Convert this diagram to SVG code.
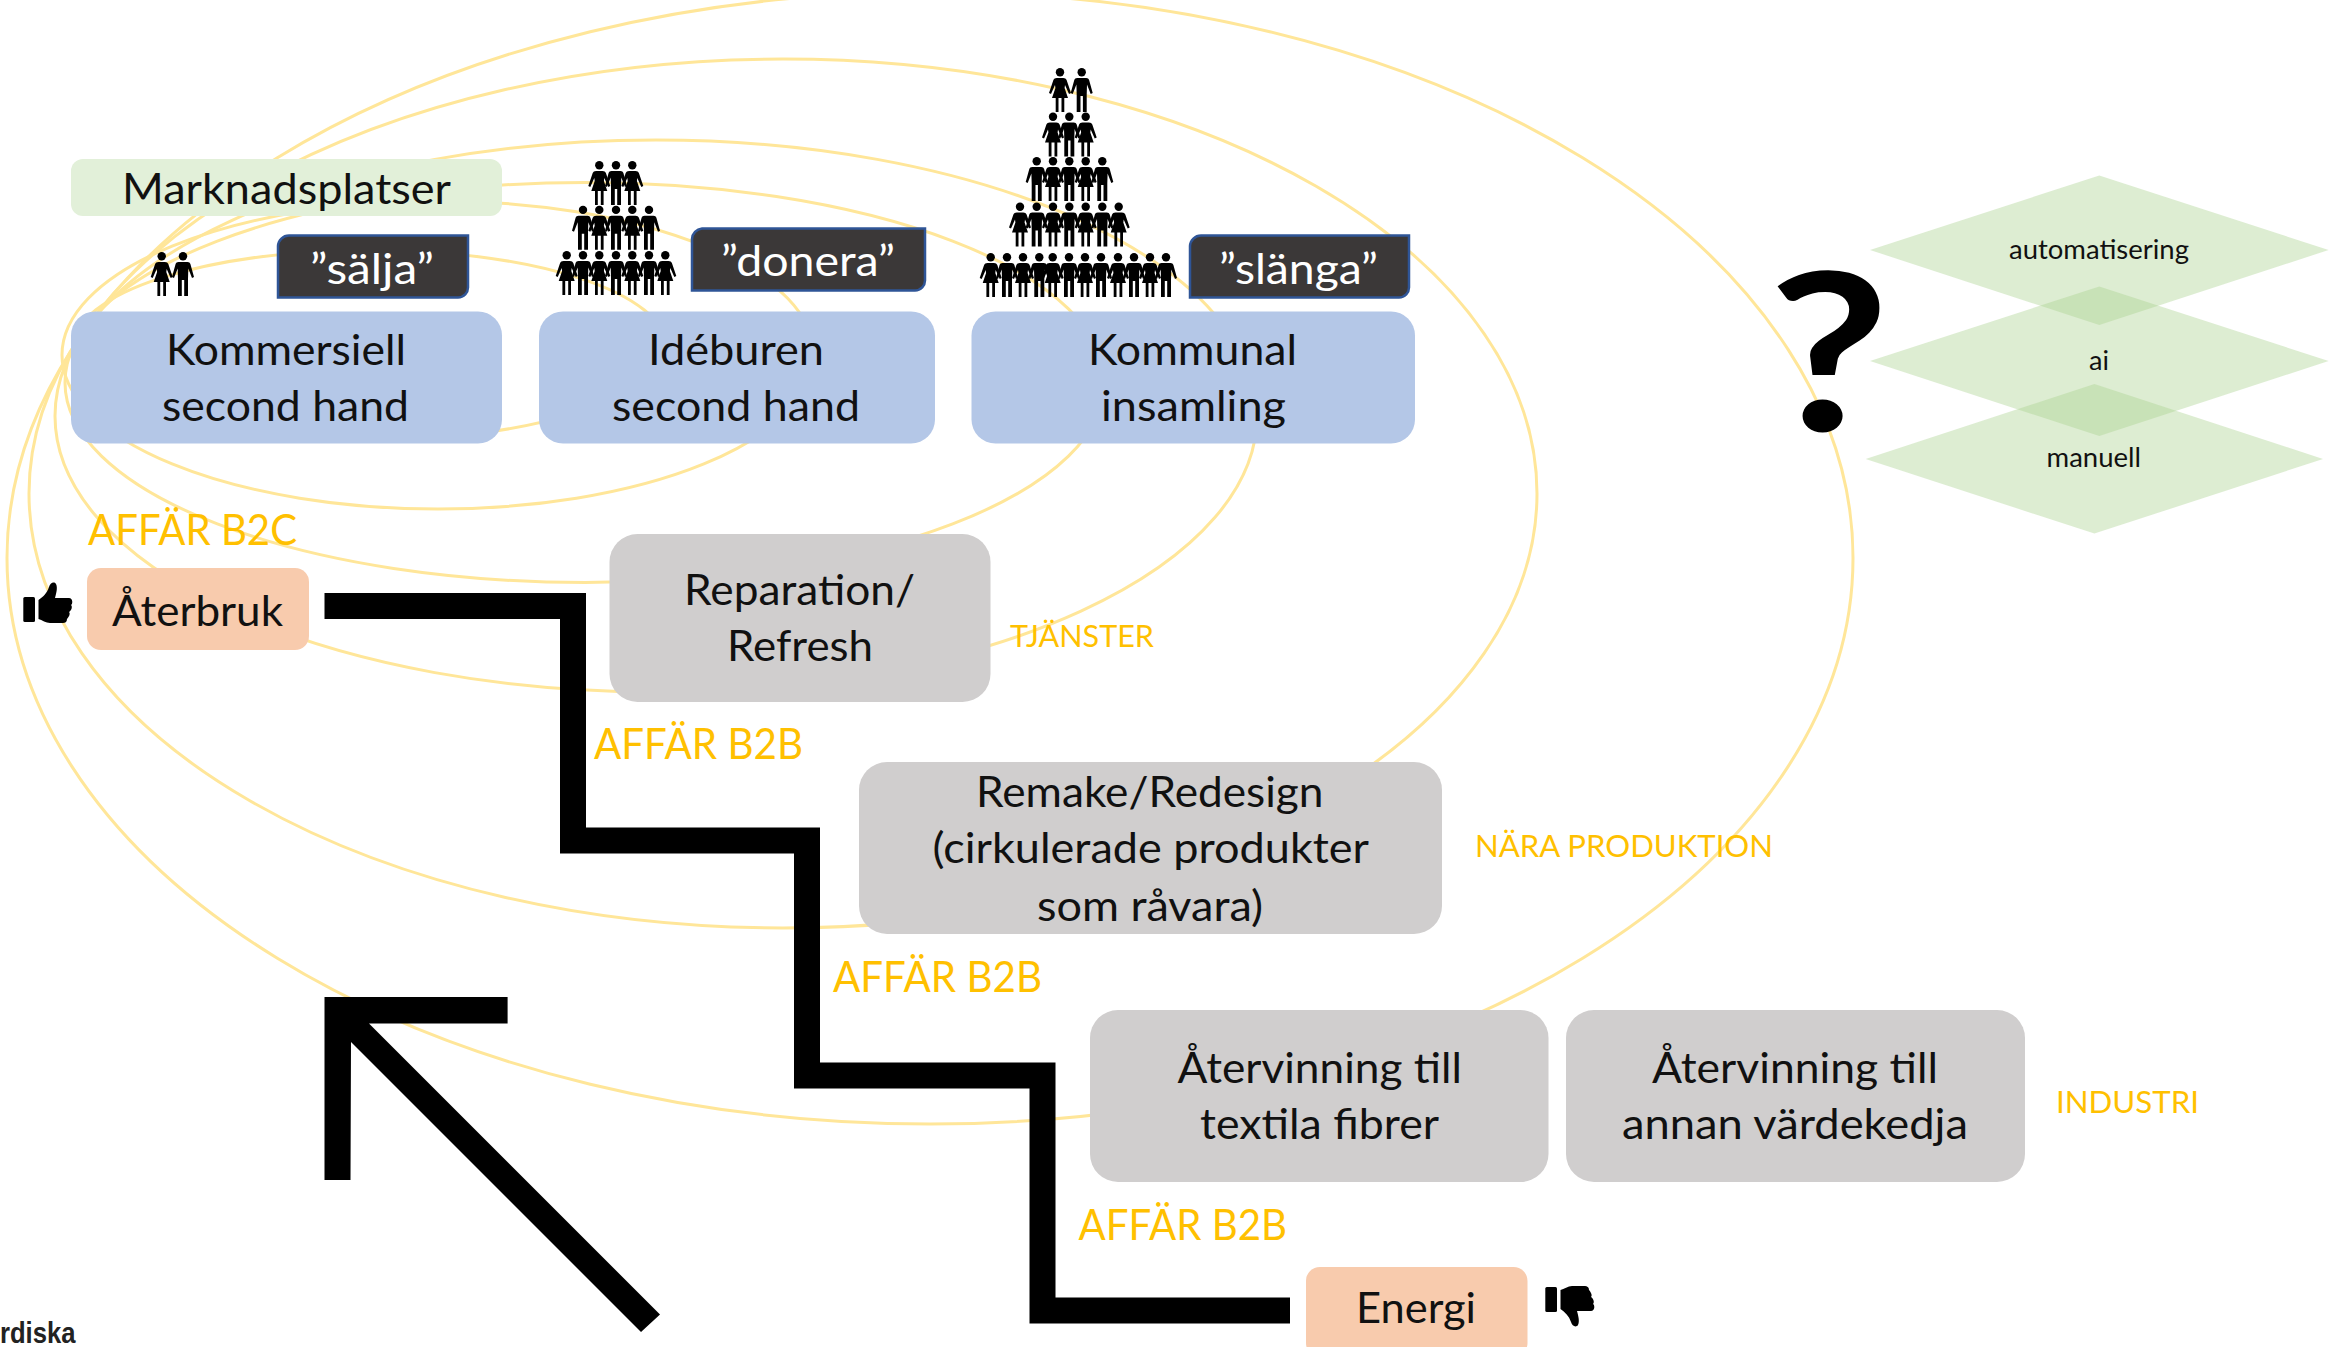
<svg xmlns="http://www.w3.org/2000/svg" width="2336" height="1347" viewBox="0 0 2336 1347">
<style>
text{font-family:"Lato","Carlito","Liberation Sans",sans-serif;}
.t{font-size:43px;fill:#111;}
.w{font-size:43px;fill:#fff;}
.a{font-size:42px;fill:#ffc000;}
.s{font-size:31px;fill:#ffc000;}
.d{font-size:27px;fill:#111;}
.ring{fill:none;stroke:#ffe699;stroke-width:3;}
.blue{fill:#b4c7e7;}.gray{fill:#d0cece;}.peach{fill:#f8cbad;}
.dark{fill:#3b3838;stroke:#2f5597;stroke-width:2.5;}
.dia{fill:#a9d18e;fill-opacity:.4;}
</style>
<defs>
<g id="m"><circle cx="0" cy="4.2" r="4.2"/><path d="M-4.500,10H4.500C6,10 7,10.700 7.400,12L11,25L9,26L5.300,16.500L5,27V44H1.200V28H-1.200V44H-5V27L-5.300,16.500L-9,26L-11,25L-7.400,12C-7,10.700-6,10-4.500,10Z"/></g>
<g id="f"><circle cx="0" cy="4.2" r="4.2"/><path d="M-3.200,10H3.200C5,10 6,10.700 6.600,12L11,25L9,26L5,17L4.600,20L8,30H4.300V44H1.500V30H-1.500V44H-4.300V30H-8L-4.600,20L-5,17L-9,26L-11,25L-6.600,12C-6,10.700-5,10-3.200,10Z"/></g>
<g id="thumb"><rect x="23.300" y="597" width="11.700" height="25" rx="1.500"/><path d="M38.500,600C43,597 47,593 49,587C50,583 54,581 56,584C58,588 56,594 55,598H69C73,598 73,604 71,605C73,607 71,611 69,612C71,614 68,618 67,619C67,622 65,623 63,623H50C46,623 42,620 38.500,619Z"/></g>
</defs>
<rect width="2336" height="1347" fill="#fff"/>
<g id="rings">
<ellipse class="ring" cx="930" cy="558" rx="923" ry="566"/>
<ellipse class="ring" cx="783" cy="493.500" rx="754" ry="434.500"/>
<ellipse class="ring" cx="656" cy="416" rx="601" ry="276"/>
<ellipse class="ring" cx="585" cy="382.500" rx="520" ry="200"/>
<ellipse class="ring" cx="438" cy="355" rx="376" ry="154"/>
<ellipse class="ring" cx="370" cy="345" rx="295" ry="95"/>
</g>
<g id="connectors">
<path d="M324.500,606H573V840.500H807V1075.500H1042.500V1310.500H1290" fill="none" stroke="#000" stroke-width="26"/>
<path d="M324.500,997H507.600V1023.500H369L660,1314.500L641,1332L351,1042L350.500,1180H324.500Z" fill="#000"/>
</g>
<g id="marknadsplatser"><rect x="71" y="159" width="431" height="57" rx="12" fill="#e2f0d9"/><text class="t" x="122" y="204" textLength="329" lengthAdjust="spacingAndGlyphs">Marknadsplatser</text></g>
<g id="kommersiell"><rect class="blue" x="71" y="311.500" width="431" height="132" rx="24"/><text class="t" x="166" y="365" textLength="240" lengthAdjust="spacingAndGlyphs">Kommersiell</text><text class="t" x="162" y="421" textLength="247" lengthAdjust="spacingAndGlyphs">second hand</text></g>
<g id="ideburen"><rect class="blue" x="539" y="311.500" width="396" height="132" rx="24"/><text class="t" x="648" y="365" textLength="176" lengthAdjust="spacingAndGlyphs">Idéburen</text><text class="t" x="612" y="421" textLength="248" lengthAdjust="spacingAndGlyphs">second hand</text></g>
<g id="kommunal"><rect class="blue" x="971.500" y="311.500" width="443.500" height="132" rx="24"/><text class="t" x="1088" y="365" textLength="209" lengthAdjust="spacingAndGlyphs">Kommunal</text><text class="t" x="1101" y="421" textLength="185" lengthAdjust="spacingAndGlyphs">insamling</text></g>
<g id="salja"><path class="dark" d="M289,235.500H468V287A10,10 0 0 1 458,297.500H278V246A11,11 0 0 1 289,235.500Z"/><text class="w" x="310" y="284" textLength="124" lengthAdjust="spacingAndGlyphs">”sälja”</text></g>
<g id="donera"><path class="dark" d="M702,228.500H925V280A10,10 0 0 1 915,290.500H692V239A11,11 0 0 1 702,228.500Z"/><text class="w" x="721" y="276" textLength="174" lengthAdjust="spacingAndGlyphs">”donera”</text></g>
<g id="slanga"><path class="dark" d="M1201,235.500H1409V287A10,10 0 0 1 1399,297.500H1190V246A11,11 0 0 1 1201,235.500Z"/><text class="w" x="1219" y="284" textLength="159" lengthAdjust="spacingAndGlyphs">”slänga”</text></g>
<g id="people-1"><use href="#f" x="161.700" y="252"/><use href="#m" x="183" y="252"/></g>
<g id="people-2">
<use href="#f" x="599.300" y="161"/><use href="#m" x="616" y="161"/><use href="#f" x="632.300" y="161"/>
<use href="#m" x="583" y="205.700"/><use href="#f" x="599.300" y="205.700"/><use href="#m" x="616" y="205.700"/><use href="#f" x="632.300" y="205.700"/><use href="#m" x="649" y="205.700"/>
<use href="#f" x="566.700" y="251"/><use href="#m" x="583" y="251"/><use href="#f" x="599.300" y="251"/><use href="#m" x="616" y="251"/><use href="#f" x="632.300" y="251"/><use href="#m" x="649" y="251"/><use href="#f" x="665.300" y="251"/>
</g>
<g id="people-3">
<use href="#f" x="1060" y="68"/><use href="#m" x="1081.700" y="68"/>
<use href="#f" x="1053" y="112.500"/><use href="#m" x="1069.300" y="112.500"/><use href="#f" x="1085.700" y="112.500"/>
<use href="#m" x="1036.700" y="157"/><use href="#f" x="1053" y="157"/><use href="#m" x="1069.300" y="157"/><use href="#f" x="1085.700" y="157"/><use href="#m" x="1102.300" y="157"/>
<use href="#f" x="1020" y="202.500"/><use href="#m" x="1036.700" y="202.500"/><use href="#f" x="1053" y="202.500"/><use href="#m" x="1069.300" y="202.500"/><use href="#f" x="1085.700" y="202.500"/><use href="#m" x="1102.300" y="202.500"/><use href="#f" x="1118.700" y="202.500"/>
<use href="#f" x="990.700" y="253"/><use href="#m" x="1007" y="253"/><use href="#f" x="1023" y="253"/><use href="#m" x="1039.300" y="253"/><use href="#f" x="1052.700" y="253"/><use href="#m" x="1069" y="253"/><use href="#f" x="1085" y="253"/><use href="#m" x="1101" y="253"/><use href="#f" x="1118" y="253"/><use href="#m" x="1134" y="253"/><use href="#f" x="1150" y="253"/><use href="#m" x="1166" y="253"/>
</g>
<g id="aterbruk"><rect class="peach" x="87" y="568" width="222" height="82" rx="14"/><text class="t" x="112" y="626" textLength="171" lengthAdjust="spacingAndGlyphs">Återbruk</text></g>
<g id="thumb-up"><use href="#thumb"/></g>
<g id="reparation"><rect class="gray" x="609.500" y="534" width="381" height="168" rx="28"/><text class="t" x="684" y="605" textLength="231" lengthAdjust="spacingAndGlyphs">Reparation/</text><text class="t" x="727" y="661" textLength="146" lengthAdjust="spacingAndGlyphs">Refresh</text></g>
<g id="remake"><rect class="gray" x="859" y="762" width="583" height="172" rx="28"/><text class="t" x="976" y="807" textLength="347.500" lengthAdjust="spacingAndGlyphs">Remake/Redesign</text><text class="t" x="932.600" y="862.500" textLength="436.400" lengthAdjust="spacingAndGlyphs">(cirkulerade produkter</text><text class="t" x="1037" y="921" textLength="226" lengthAdjust="spacingAndGlyphs">som råvara)</text></g>
<g id="atervinning-fibrer"><rect class="gray" x="1090" y="1010" width="458.500" height="172" rx="28"/><text class="t" x="1177.600" y="1083" textLength="284.400" lengthAdjust="spacingAndGlyphs">Återvinning till</text><text class="t" x="1200" y="1139" textLength="239" lengthAdjust="spacingAndGlyphs">textila fibrer</text></g>
<g id="atervinning-annan"><rect class="gray" x="1566" y="1010" width="459" height="172" rx="28"/><text class="t" x="1652" y="1083" textLength="286" lengthAdjust="spacingAndGlyphs">Återvinning till</text><text class="t" x="1622" y="1139" textLength="346" lengthAdjust="spacingAndGlyphs">annan värdekedja</text></g>
<g id="energi"><rect class="peach" x="1306" y="1267" width="221.500" height="90" rx="14"/><text class="t" x="1356" y="1323" textLength="120" lengthAdjust="spacingAndGlyphs">Energi</text></g>
<g id="thumb-down"><use href="#thumb" transform="translate(1522,1909) scale(1,-1)"/></g>
<g id="labels">
<text class="a" x="88" y="544.600" textLength="209" lengthAdjust="spacingAndGlyphs">AFFÄR B2C</text>
<text class="a" x="594" y="759" textLength="209" lengthAdjust="spacingAndGlyphs">AFFÄR B2B</text>
<text class="a" x="833" y="992" textLength="209" lengthAdjust="spacingAndGlyphs">AFFÄR B2B</text>
<text class="a" x="1078.600" y="1240" textLength="208.400" lengthAdjust="spacingAndGlyphs">AFFÄR B2B</text>
<text class="s" x="1010" y="647" textLength="144" lengthAdjust="spacingAndGlyphs">TJÄNSTER</text>
<text class="s" x="1475" y="857" textLength="298" lengthAdjust="spacingAndGlyphs">NÄRA PRODUKTION</text>
<text class="s" x="2056" y="1113" textLength="143" lengthAdjust="spacingAndGlyphs">INDUSTRI</text>
</g>
<g id="question"><text x="0" y="0" text-anchor="middle" transform="translate(1829,431) scale(1.2,1)" style="font-family:'Lato',sans-serif;font-size:220px;font-weight:700;fill:#000">?</text></g>
<g id="automatisering"><polygon class="dia" points="1870,250 2099.300,175.400 2328.600,250 2099.300,325"/><text class="d" x="2009" y="259" textLength="180" lengthAdjust="spacingAndGlyphs">automatisering</text></g>
<g id="ai"><polygon class="dia" points="1870,361 2099.300,286.400 2328.600,361 2099.300,436"/><text class="d" x="2089" y="370" textLength="20" lengthAdjust="spacingAndGlyphs">ai</text></g>
<g id="manuell"><polygon class="dia" points="1865.700,459 2094.400,384 2323,459 2094.400,533.600"/><text class="d" x="2046.500" y="467" textLength="94.500" lengthAdjust="spacingAndGlyphs">manuell</text></g>
<g id="logo"><text x="0" y="1343" textLength="75.500" lengthAdjust="spacingAndGlyphs" style="font-family:'Liberation Sans',sans-serif;font-size:29px;font-weight:700;fill:#222">rdiska</text></g>
</svg>
